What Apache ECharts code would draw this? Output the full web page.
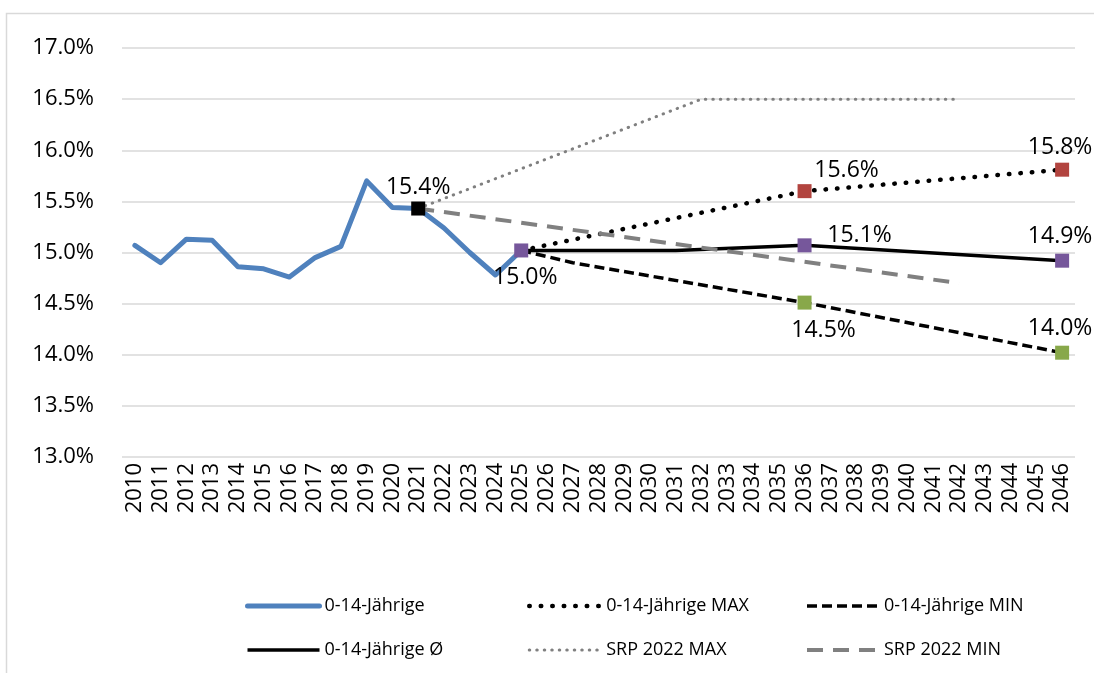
<!DOCTYPE html>
<html>
<head>
<meta charset="utf-8">
<script src="https://cdn.jsdelivr.net/npm/echarts@6/dist/echarts.min.js"></script>
<style>
html,body{margin:0;padding:0;background:#fff;}
#chart{width:1094px;height:673px;}
</style>
</head>
<body>
<div id="chart"></div>
<script>
const _ = null;
const years = ['2010','2011','2012','2013','2014','2015','2016','2017','2018','2019',
  '2020','2021','2022','2023','2024','2025','2026','2027','2028','2029',
  '2030','2031','2032','2033','2034','2035','2036','2037','2038','2039',
  '2040','2041','2042','2043','2044','2045','2046'];
const yTicks = [13.0, 13.5, 14.0, 14.5, 15.0, 15.5, 16.0, 16.5, 17.0];

const kids    = [15.07,14.90,15.13,15.12,14.86,14.84,14.76,14.95,15.06,15.70,
                 15.44,15.43,15.24,15.00,14.78,15.02,_,_,_,_,
                 _,_,_,_,_,_,_,_,_,_, _,_,_,_,_,_,_];
const kidsMax = [_,_,_,_,_,_,_,_,_,_, _,_,_,_,_,15.02,_,_,_,_,
                 _,_,_,_,_,_,15.60,_,_,_, _,_,_,_,_,_,15.81];
const kidsMin = [_,_,_,_,_,_,_,_,_,_, _,_,_,_,_,15.02,_,14.90,_,_,
                 _,_,_,_,_,_,14.51,_,_,_, _,_,_,_,_,_,14.02];
const kidsAvg = [_,_,_,_,_,_,_,_,_,_, _,_,_,_,_,15.02,_,_,_,_,
                 _,15.02,_,_,_,_,15.07,_,_,_, _,_,_,_,_,_,14.92];
const srpMax  = [_,_,_,_,_,_,_,_,_,_, _,15.43,_,_,_,_,_,_,_,_,
                 _,_,16.50,_,_,_,_,_,_,_, _,_,16.50,_,_,_,_];
const srpMin  = [_,_,_,_,_,_,_,_,_,_, _,15.43,_,_,_,_,_,_,_,_,
                 _,_,_,_,_,_,_,_,_,_, _,_,14.70,_,_,_,_];

const names = ['0-14-Jährige','0-14-Jährige MAX','0-14-Jährige MIN','0-14-Jährige Ø','SRP 2022 MAX','SRP 2022 MIN'];

const RED = '#B2443F', PURPLE = '#76579B', GREEN = '#88A84A';
// marker/label definitions: [source array, year index, colour, label offset]
const markers = [
  [kids,    11, '#000000', [0, -21]],
  [kidsAvg, 15, PURPLE,    [4, 27]],
  [kidsMax, 26, RED,       [42, -21]],
  [kidsAvg, 26, PURPLE,    [55, -10]],
  [kidsMin, 26, GREEN,     [19, 28]],
  [kidsMax, 36, RED,       [-2, -22]],
  [kidsAvg, 36, PURPLE,    [-2, -24]],
  [kidsMin, 36, GREEN,     [-2, -24]]
];

const FONT = 'Open Sans';
const chart = echarts.init(document.getElementById('chart'), null, {renderer:'canvas'});

function lineSeries(name, data, lineStyle){
  return {name, type:'line', data, connectNulls:true, symbol:'none', showSymbol:false,
    itemStyle:{color:lineStyle.color},
    lineStyle, z:2, animation:false, emphasis:{disabled:true}};
}

const markerData = markers.map(m => ({
  value:[m[1], m[0][m[1]]],
  itemStyle:{color:m[2], opacity:1},
  label:{show:true, position:'inside', offset:m[3], align:'center', verticalAlign:'middle',
    color:'#000', fontFamily:FONT, fontSize:23,
    formatter: p => p.value[1].toFixed(1) + '%'}
}));

const legendText = {fontFamily:FONT, fontSize:18, color:'#000'};
function legendCol(left, data){
  return {orient:'vertical', left, top:597, itemWidth:72, itemHeight:14, itemGap:26, padding:0,
    data, textStyle:legendText, selectedMode:false,
    itemStyle:{opacity:0},
    lineStyle:{width:'inherit'}};
}

chart.setOption({
  backgroundColor:'#fff',
  animation:false,
  graphic:[{type:'rect', left:4, top:11, shape:{width:1200, height:800},
    style:{fill:'none', stroke:'#d9d9d9', lineWidth:1.5}, silent:true}],
  grid:{left:122, right:19, top:48, bottom:216, containLabel:false},
  legend:[
    legendCol(245, [names[0], names[3]]),
    legendCol(527, [names[1], names[4]]),
    legendCol(805, [names[2], names[5]])
  ],
  xAxis:{type:'category', data:years, boundaryGap:true,
    axisLine:{show:false}, axisTick:{show:false},
    axisLabel:{rotate:90, interval:0, margin:6, fontFamily:FONT, fontSize:22, color:'#000'}},
  yAxis:{type:'value', min:yTicks[0], max:yTicks[yTicks.length-1], interval:0.5,
    axisLine:{show:false}, axisTick:{show:false},
    splitLine:{lineStyle:{color:'#d9d9d9', width:1.5}},
    axisLabel:{margin:28, fontFamily:FONT, fontSize:22, color:'#000',
      formatter: v => v.toFixed(1) + '%'}},
  series:[
    lineSeries(names[0], kids,    {color:'#4F81BD', width:5, cap:'round', join:'round'}),
    lineSeries(names[1], kidsMax, {color:'#000000', width:4.5, type:[0.5, 11], cap:'round'}),
    lineSeries(names[2], kidsMin, {color:'#000000', width:3.5, type:[10, 5]}),
    lineSeries(names[3], kidsAvg, {color:'#000000', width:3.5}),
    lineSeries(names[4], srpMax,  {color:'#808080', width:3, type:[0.5, 7], cap:'round'}),
    lineSeries(names[5], srpMin,  {color:'#808080', width:4, type:[16, 10]}),
    {name:'markers', type:'scatter', symbol:'rect', symbolSize:14, z:5, data:markerData,
      animation:false, emphasis:{disabled:true}}
  ]
});
</script>
</body>
</html>
